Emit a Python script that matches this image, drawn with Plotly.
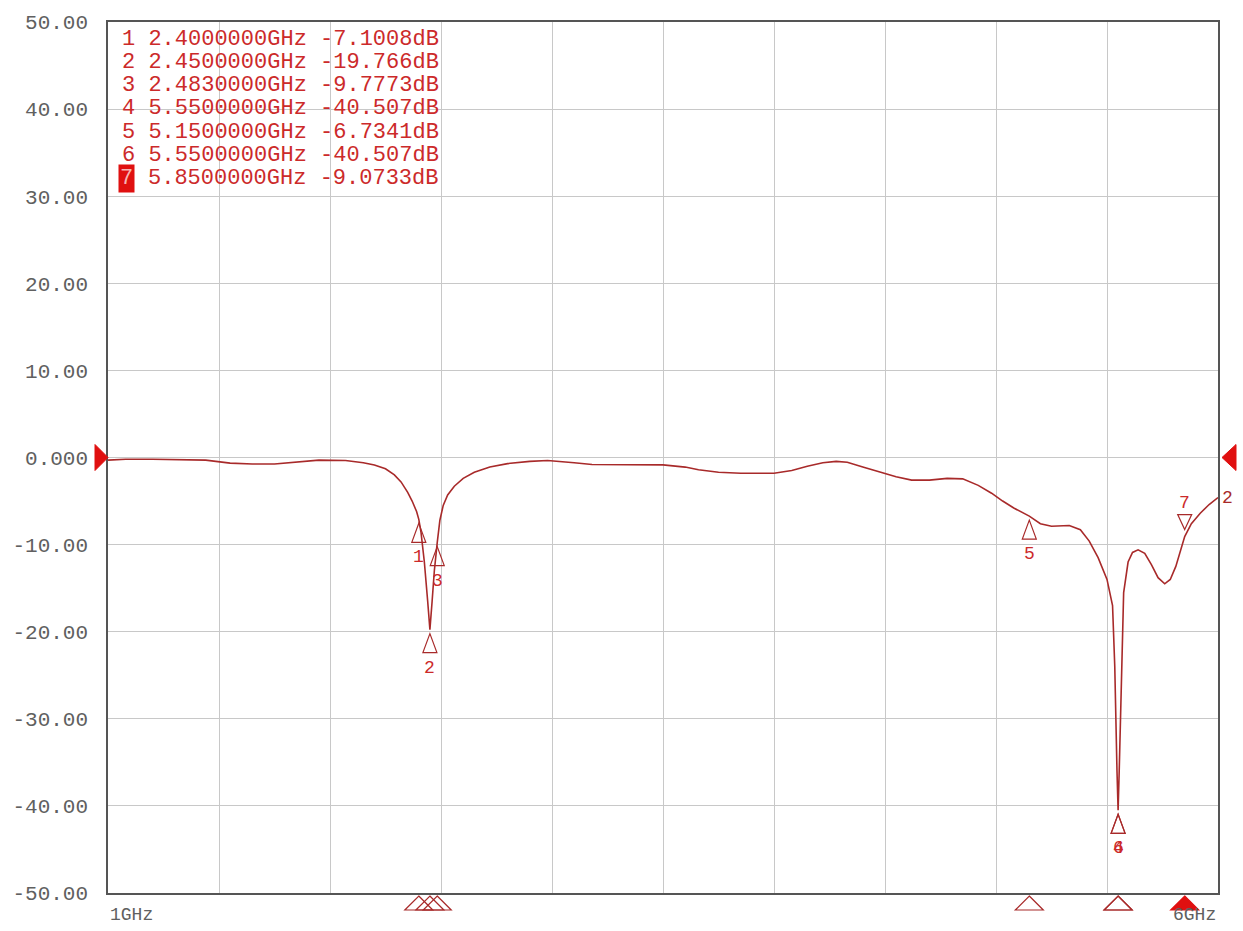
import plotly.graph_objects as go

# ---------------- data ----------------
freq_ghz = [1.00, 1.08, 1.20, 1.30, 1.44, 1.55, 1.65, 1.75, 1.85, 1.95, 2.07, 2.15, 2.20, 2.25,
            2.29, 2.32, 2.35, 2.37, 2.39, 2.40, 2.41, 2.425, 2.44, 2.45, 2.46, 2.47, 2.483,
            2.495, 2.51, 2.53, 2.56, 2.60, 2.65, 2.72, 2.80, 2.90, 2.98, 3.04, 3.10, 3.18,
            3.35, 3.50, 3.60, 3.66, 3.75, 3.85, 4.00, 4.08, 4.15, 4.22, 4.28, 4.33, 4.40,
            4.48, 4.55, 4.62, 4.70, 4.78, 4.85, 4.92, 4.98, 5.03, 5.08, 5.15, 5.20, 5.25,
            5.33, 5.38, 5.42, 5.46, 5.50, 5.525, 5.535, 5.545, 5.55, 5.555, 5.565, 5.575,
            5.595, 5.615, 5.64, 5.67, 5.70, 5.73, 5.76, 5.785, 5.81, 5.83, 5.85, 5.88,
            5.92, 5.96, 6.00]
s21_db = [-0.30, -0.20, -0.20, -0.25, -0.30, -0.65, -0.75, -0.75, -0.55, -0.30, -0.35, -0.60,
          -0.85, -1.30, -2.00, -2.80, -4.00, -5.00, -6.20, -7.1008, -8.6, -12.0, -16.5, -19.766,
          -16.5, -13.0, -9.7773, -7.2, -5.5, -4.3, -3.3, -2.4, -1.7, -1.1, -0.7, -0.45, -0.35,
          -0.45, -0.6, -0.8, -0.8, -0.85, -1.1, -1.4, -1.7, -1.8, -1.8, -1.5, -1.0, -0.6,
          -0.45, -0.55, -1.1, -1.7, -2.2, -2.6, -2.6, -2.4, -2.45, -3.2, -4.1, -5.0, -5.8,
          -6.7341, -7.6, -7.9, -7.8, -8.3, -9.6, -11.5, -14.0, -17.0, -24.0, -36.0, -40.507,
          -36.0, -24.0, -15.5, -12.0, -10.9, -10.6, -11.0, -12.3, -13.8, -14.5, -14.0, -12.5,
          -10.9, -9.0733, -7.6, -6.4, -5.4, -4.6]

marker_ids = ["1", "2", "3", "4", "5", "6", "7"]
marker_freq = [2.40, 2.45, 2.483, 5.55, 5.15, 5.55, 5.85]
marker_db = [-7.1008, -19.766, -9.7773, -40.507, -6.7341, -40.507, -9.0733]
marker_freq_text = ["2.4000000GHz", "2.4500000GHz", "2.4830000GHz", "5.5500000GHz",
                    "5.1500000GHz", "5.5500000GHz", "5.8500000GHz"]
marker_db_text = ["-7.1008dB", "-19.766dB", "-9.7773dB", "-40.507dB",
                  "-6.7341dB", "-40.507dB", "-9.0733dB"]
active_marker = "7"

y_tickvals = [50, 40, 30, 20, 10, 0, -10, -20, -30, -40, -50]
y_ticktext = ["50.00", "40.00", "30.00", "20.00", "10.00", "0.000",
              "-10.00", "-20.00", "-30.00", "-40.00", "-50.00"]
x_start_label = "1GHz"
x_stop_label = "6GHz"
channel_label = "2"

# ---------------- style ----------------
TRACE = "#a82a2a"
RED = "#e01010"
TXT_RED = "#cc2a2a"
GREY = "#606060"
FONT = "Liberation Mono"
TABLE_SIZE = 22
CHAR_W = 0.6 * TABLE_SIZE

fig = go.Figure()
fig.add_trace(go.Scatter(x=freq_ghz, y=s21_db, mode="lines",
                         line=dict(color=TRACE, width=1.6), showlegend=False,
                         hoverinfo="skip"))

shapes = []
annotations = []

# trace markers (triangles + labels)
for mid, f, v in zip(marker_ids, marker_freq, marker_db):
    if mid == active_marker:
        path = "M 0,7 L 7,22 L -7,22 Z"
        lab_shift = 34
    else:
        path = "M 0,-4 L 7,-23 L -7,-23 Z"
        lab_shift = -38
    shapes.append(dict(type="path", xref="x", yref="y", xsizemode="pixel", ysizemode="pixel",
                       xanchor=f, yanchor=v, path=path,
                       line=dict(color=TRACE, width=1.2), fillcolor="rgba(0,0,0,0)"))
    annotations.append(dict(x=f, y=v, xref="x", yref="y", text=mid, showarrow=False,
                            yshift=lab_shift, font=dict(family=FONT, size=18, color=TXT_RED)))
    # bottom axis markers
    filled = mid == active_marker
    shapes.append(dict(type="path", xref="x", yref="paper", xsizemode="pixel", ysizemode="pixel",
                       xanchor=f, yanchor=0, path="M 0,-3 L 14,-17 L -14,-17 Z",
                       line=dict(color=RED if filled else TRACE, width=1.2),
                       fillcolor=RED if filled else "rgba(0,0,0,0)"))

# reference level triangles at 0 dB
shapes.append(dict(type="path", xref="paper", yref="y", xsizemode="pixel", ysizemode="pixel",
                   xanchor=0, yanchor=0, path="M 0,0 L -13,13 L -13,-13 Z",
                   line=dict(color=RED, width=1), fillcolor=RED))
shapes.append(dict(type="path", xref="paper", yref="y", xsizemode="pixel", ysizemode="pixel",
                   xanchor=1, yanchor=0, path="M 4,0 L 18,13 L 18,-13 Z",
                   line=dict(color=RED, width=1), fillcolor=RED))

# marker table
for i, (mid, ft, dt) in enumerate(zip(marker_ids, marker_freq_text, marker_db_text)):
    yshift = -(17 + 23.3 * i)
    if mid == active_marker:
        annotations.append(dict(x=0, y=1, xref="paper", yref="paper", text=mid, showarrow=False,
                                xanchor="left", yanchor="middle", xshift=10, yshift=yshift,
                                bgcolor=RED, borderpad=1,
                                font=dict(family=FONT, size=TABLE_SIZE, color="#f6b4b4")))
        annotations.append(dict(x=0, y=1, xref="paper", yref="paper",
                                text=ft + " " + dt, showarrow=False,
                                xanchor="left", yanchor="middle", xshift=12 + 2 * CHAR_W,
                                yshift=yshift,
                                font=dict(family=FONT, size=TABLE_SIZE, color=TXT_RED)))
    else:
        annotations.append(dict(x=0, y=1, xref="paper", yref="paper",
                                text=mid + " " + ft + " " + dt, showarrow=False,
                                xanchor="left", yanchor="middle", xshift=12, yshift=yshift,
                                font=dict(family=FONT, size=TABLE_SIZE, color=TXT_RED)))

# x start/stop labels
annotations.append(dict(x=0, y=0, xref="paper", yref="paper", text=x_start_label, showarrow=False,
                        xanchor="left", yanchor="top", yshift=-10,
                        font=dict(family=FONT, size=18, color=GREY)))
annotations.append(dict(x=1, y=0, xref="paper", yref="paper", text=x_stop_label, showarrow=False,
                        xanchor="right", yanchor="top", yshift=-10,
                        font=dict(family=FONT, size=18, color=GREY)))
# channel label at trace end
annotations.append(dict(x=freq_ghz[-1], y=s21_db[-1], xref="x", yref="y", text=channel_label,
                        showarrow=False, xanchor="left", xshift=2,
                        font=dict(family=FONT, size=18, color=TRACE)))

fig.update_layout(
    width=1243, height=931,
    margin=dict(l=108, r=25, t=18, b=38),
    paper_bgcolor="white", plot_bgcolor="white",
    shapes=shapes, annotations=annotations,
    showlegend=False,
)
fig.update_xaxes(range=[1, 6], dtick=0.5, tick0=1, showticklabels=False, ticks="",
                 showgrid=True, gridcolor="#c8c8c8", gridwidth=1, zeroline=False,
                 showline=True, linecolor="#555555", linewidth=1.5, mirror=True)
fig.update_yaxes(range=[-50, 50], tickvals=y_tickvals, ticktext=y_ticktext, ticks="",
                 ticklabelstandoff=14,
                 tickfont=dict(family=FONT, size=21, color=GREY),
                 showgrid=True, gridcolor="#c8c8c8", gridwidth=1, zeroline=False,
                 showline=True, linecolor="#555555", linewidth=1.5, mirror=True)

fig.write_html("out.html", config={"displayModeBar": False},
               post_script="document.body.style.margin='0';document.body.style.overflow='hidden';")
